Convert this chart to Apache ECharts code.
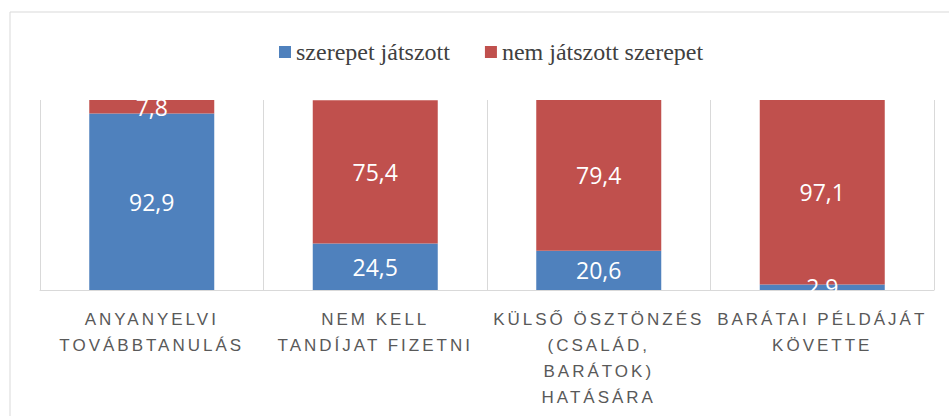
<!DOCTYPE html>
<html>
<head>
<meta charset="utf-8">
<script src="https://cdn.jsdelivr.net/npm/echarts@6/dist/echarts.min.js"></script>
<style>
    html, body { margin: 0; padding: 0; background: #fff; }
    #main { width: 949px; height: 416px; }
    /* wide tracking of the category labels */
    #main svg text[fill="#595959"] { letter-spacing: 3px; }
</style>
</head>
<body>
<div id="main"></div>
<script>
// data
const categories = [
    'ANYANYELVI\nTOVÁBBTANULÁS',
    'NEM KELL\nTANDÍJAT FIZETNI',
    'KÜLSŐ ÖSZTÖNZÉS\n(CSALÁD,\nBARÁTOK)\nHATÁSÁRA',
    'BARÁTAI PÉLDÁJÁT\nKÖVETTE'
]
const seriesNames = ['szerepet játszott', 'nem játszott szerepet']
const playedRole = [92.9, 24.5, 20.6, 2.9]
const notPlayedRole = [7.8, 75.4, 79.4, 97.1]

const chart = echarts.init(document.getElementById('main'), null, {renderer: 'svg'})

const labelStyle = {
    show: true,
    position: 'inside',
    color: '#ffffff',
    fontFamily: 'Open Sans',
    fontSize: 23,
    formatter: p => String(p.value).replace('.', ',')
}

const option = {
    animation: false,
    graphic: [{
        type: 'rect',
        shape: {x: 10, y: 12, width: 960, height: 420},
        style: {fill: 'none', stroke: '#d9d9d9', lineWidth: 1},
        silent: true
    }],
    legend: {
        left: 274,
        top: 35,
        itemWidth: 12,
        itemHeight: 12,
        itemGap: 35,
        icon: 'rect',
        textStyle: {
            fontFamily: '"Liberation Serif", serif',
            fontSize: 24,
            color: '#404040'
        },
        data: seriesNames
    },
    grid: {
        left: 40,
        right: 15,
        top: 100,
        bottom: 126
    },
    xAxis: {
        type: 'category',
        data: categories,
        axisTick: {show: false},
        axisLine: {lineStyle: {color: '#d9d9d9'}},
        splitLine: {show: true, interval: 0, lineStyle: {color: '#d9d9d9'}},
        axisLabel: {
            interval: 0,
            margin: 16,
            color: '#595959',
            fontFamily: 'Liberation Sans',
            fontSize: 17,
            lineHeight: 26
        }
    },
    yAxis: {
        type: 'value',
        min: 0,
        max: 100,
        show: false,
        splitLine: {show: false}
    },
    series: [
        {
            name: seriesNames[0],
            type: 'bar',
            stack: 'total',
            barWidth: 125,
            itemStyle: {color: '#4f81bd'},
            label: labelStyle,
            data: playedRole
        },
        {
            name: seriesNames[1],
            type: 'bar',
            stack: 'total',
            barWidth: 125,
            itemStyle: {color: '#c0504d'},
            label: labelStyle,
            data: notPlayedRole
        }
    ]
}

chart.setOption(option)
</script>
</body>
</html>
